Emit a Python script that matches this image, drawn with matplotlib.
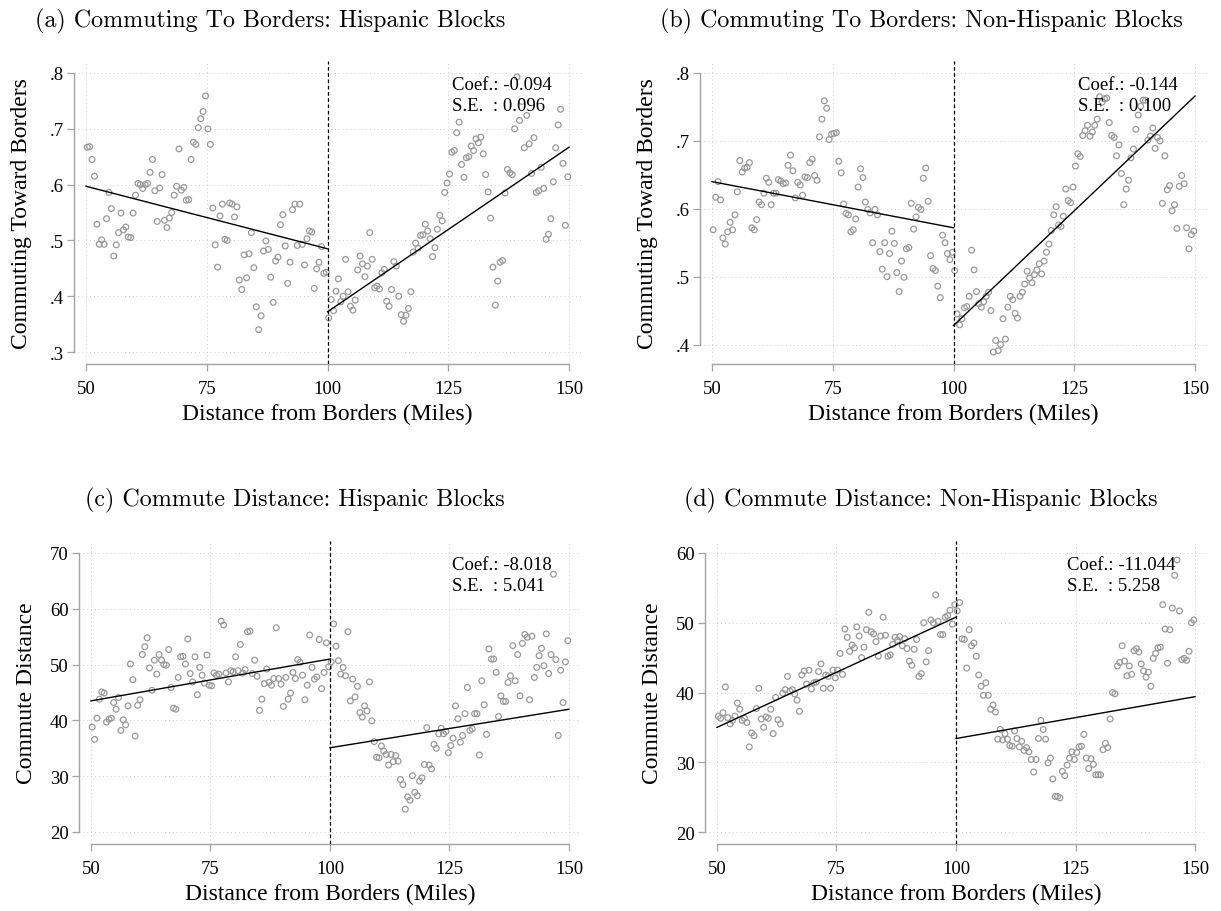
import numpy as np
import matplotlib
matplotlib.use("Agg")
import matplotlib.pyplot as plt

plt.rcParams["font.family"] = ["Liberation Serif", "DejaVu Serif"]

# half-mile distance bins, 50 to 150 miles from the border
dist = np.arange(50.25, 150, 0.5)
x_ticks = [50, 75, 100, 125, 150]

# (a) share commuting toward the border, Hispanic blocks
share_hisp = [
    0.667, 0.668, 0.645, 0.615, 0.529, 0.493, 0.501, 0.493, 0.539, 0.586,
    0.557, 0.472, 0.492, 0.514, 0.549, 0.519, 0.524, 0.506, 0.505, 0.549,
    0.581, 0.602, 0.600, 0.593, 0.600, 0.602, 0.622, 0.645, 0.589, 0.534,
    0.594, 0.618, 0.536, 0.523, 0.540, 0.550, 0.581, 0.597, 0.664, 0.590,
    0.595, 0.572, 0.573, 0.645, 0.676, 0.672, 0.702, 0.718, 0.731, 0.759,
    0.700, 0.672, 0.558, 0.492, 0.452, 0.544, 0.565, 0.502, 0.500, 0.567,
    0.565, 0.542, 0.560, 0.429, 0.412, 0.474, 0.433, 0.476, 0.514, 0.451,
    0.381, 0.340, 0.365, 0.481, 0.499, 0.484, 0.434, 0.389, 0.463, 0.470,
    0.528, 0.546, 0.490, 0.423, 0.461, 0.555, 0.565, 0.491, 0.565, 0.493,
    0.456, 0.503, 0.517, 0.515, 0.414, 0.449, 0.461, 0.489, 0.441, 0.443,
    0.361, 0.394, 0.374, 0.409, 0.431, 0.390, 0.400, 0.466, 0.408, 0.382,
    0.375, 0.393, 0.447, 0.472, 0.458, 0.435, 0.454, 0.514, 0.466, 0.415,
    0.418, 0.413, 0.442, 0.448, 0.391, 0.382, 0.412, 0.462, 0.454, 0.400,
    0.367, 0.355, 0.366, 0.378, 0.408, 0.479, 0.495, 0.486, 0.509, 0.510,
    0.529, 0.517, 0.503, 0.471, 0.487, 0.520, 0.545, 0.535, 0.586, 0.603,
    0.619, 0.658, 0.661, 0.693, 0.712, 0.636, 0.613, 0.648, 0.650, 0.669,
    0.661, 0.682, 0.675, 0.685, 0.655, 0.618, 0.587, 0.540, 0.452, 0.384,
    0.427, 0.461, 0.464, 0.585, 0.627, 0.621, 0.618, 0.700, 0.793, 0.715,
    0.749, 0.666, 0.724, 0.673, 0.620, 0.684, 0.586, 0.589, 0.631, 0.593,
    0.502, 0.511, 0.539, 0.605, 0.666, 0.707, 0.735, 0.638, 0.527, 0.614,
]
fit_share_hisp = [[0.597, 0.485], [0.372, 0.667]]

# (b) share commuting toward the border, non-Hispanic blocks
share_nonhisp = [
    0.569, 0.617, 0.640, 0.613, 0.557, 0.548, 0.566, 0.580, 0.569, 0.591,
    0.625, 0.671, 0.654, 0.660, 0.661, 0.668, 0.572, 0.569, 0.584, 0.610,
    0.606, 0.623, 0.645, 0.639, 0.606, 0.623, 0.623, 0.643, 0.641, 0.637,
    0.638, 0.664, 0.679, 0.656, 0.616, 0.639, 0.635, 0.620, 0.647, 0.646,
    0.668, 0.673, 0.649, 0.642, 0.706, 0.732, 0.759, 0.748, 0.702, 0.710,
    0.711, 0.712, 0.670, 0.653, 0.607, 0.593, 0.591, 0.566, 0.569, 0.585,
    0.632, 0.659, 0.646, 0.610, 0.599, 0.594, 0.550, 0.599, 0.591, 0.537,
    0.511, 0.550, 0.500, 0.534, 0.567, 0.549, 0.506, 0.478, 0.523, 0.499,
    0.541, 0.543, 0.608, 0.570, 0.588, 0.602, 0.599, 0.645, 0.660, 0.611,
    0.531, 0.512, 0.509, 0.486, 0.469, 0.561, 0.550, 0.534, 0.525, 0.536,
    0.509, 0.445, 0.429, 0.438, 0.454, 0.456, 0.471, 0.539, 0.510, 0.478,
    0.460, 0.455, 0.463, 0.471, 0.477, 0.450, 0.389, 0.406, 0.391, 0.400,
    0.438, 0.408, 0.455, 0.471, 0.466, 0.446, 0.439, 0.471, 0.477, 0.489,
    0.508, 0.498, 0.491, 0.503, 0.510, 0.519, 0.504, 0.523, 0.536, 0.548,
    0.568, 0.591, 0.603, 0.576, 0.574, 0.589, 0.629, 0.612, 0.609, 0.632,
    0.663, 0.681, 0.677, 0.708, 0.715, 0.723, 0.707, 0.713, 0.723, 0.732,
    0.765, 0.757, 0.762, 0.763, 0.727, 0.708, 0.705, 0.678, 0.694, 0.652,
    0.606, 0.629, 0.642, 0.675, 0.688, 0.717, 0.738, 0.751, 0.760, 0.760,
    0.701, 0.707, 0.719, 0.689, 0.705, 0.700, 0.608, 0.678, 0.628, 0.634,
    0.597, 0.606, 0.571, 0.633, 0.649, 0.637, 0.572, 0.541, 0.562, 0.567,
]
fit_share_nonhisp = [[0.640, 0.572], [0.428, 0.766]]

# (c) commute distance, Hispanic blocks
dist_hisp = [
    38.8, 36.6, 40.4, 43.8, 45.1, 44.9, 39.7, 40.2, 40.4, 43.2,
    42.0, 44.1, 38.2, 40.1, 39.2, 42.6, 50.1, 47.3, 37.2, 42.7,
    43.7, 51.8, 53.2, 54.8, 49.4, 45.4, 50.8, 48.3, 51.8, 50.8,
    50.0, 49.9, 52.7, 45.9, 42.2, 42.0, 47.7, 51.4, 51.5, 50.1,
    54.6, 48.4, 46.9, 51.4, 44.6, 49.5, 48.1, 46.7, 51.7, 46.3,
    46.2, 48.5, 48.1, 48.3, 57.8, 57.1, 48.5, 46.9, 48.9, 48.7,
    51.4, 48.9, 53.6, 48.5, 49.1, 55.9, 56.0, 48.4, 50.8, 47.9,
    41.8, 43.8, 46.6, 49.2, 46.8, 46.3, 47.5, 56.6, 47.5, 46.5,
    42.5, 47.7, 43.8, 44.9, 48.6, 47.5, 50.9, 50.4, 48.1, 43.7,
    46.3, 55.3, 49.5, 47.4, 47.8, 54.5, 45.7, 48.6, 53.9, 49.6,
    50.5, 57.3, 53.3, 50.7, 48.3, 49.5, 48.0, 55.9, 43.5, 47.4,
    44.2, 46.1, 41.4, 40.6, 42.6, 41.7, 46.9, 39.9, 36.2, 33.4,
    33.3, 35.4, 34.5, 33.9, 32.0, 33.9, 32.6, 33.7, 32.7, 29.4,
    28.5, 24.1, 26.3, 25.7, 30.1, 27.1, 26.5, 29.1, 29.7, 32.1,
    38.7, 32.0, 31.3, 35.7, 35.0, 37.6, 38.6, 37.6, 38.0, 34.2,
    35.5, 36.8, 42.6, 40.3, 36.1, 37.3, 41.2, 45.9, 38.2, 38.5,
    41.2, 41.2, 33.8, 47.1, 42.8, 37.5, 52.8, 51.0, 51.0, 48.6,
    40.7, 44.4, 43.4, 43.4, 46.8, 48.0, 53.4, 47.1, 51.8, 44.4,
    53.8, 55.4, 54.9, 43.7, 55.1, 47.7, 49.5, 51.6, 52.9, 49.8,
    55.5, 48.4, 51.8, 66.2, 50.9, 37.3, 49.0, 43.2, 50.5, 54.3,
]
fit_dist_hisp = [[43.5, 51.0], [35.1, 42.0]]

# (d) commute distance, non-Hispanic blocks
dist_nonhisp = [
    36.6, 36.3, 37.1, 40.8, 36.4, 35.5, 36.0, 36.6, 38.5, 37.6,
    36.0, 36.3, 35.7, 32.2, 34.2, 33.8, 37.7, 40.6, 36.2, 35.0,
    36.5, 36.3, 37.6, 34.1, 39.3, 36.1, 35.5, 39.9, 40.4, 42.3,
    40.2, 40.4, 39.8, 38.9, 37.3, 42.5, 43.1, 41.2, 43.2, 40.5,
    41.4, 41.5, 43.0, 44.1, 40.6, 42.5, 42.3, 40.6, 43.2, 42.1,
    43.2, 45.6, 42.6, 49.1, 47.9, 45.9, 46.8, 46.4, 49.4, 48.1,
    45.0, 46.5, 49.0, 51.5, 48.7, 48.4, 47.3, 45.2, 48.1, 50.8,
    48.2, 45.2, 45.4, 46.9, 47.9, 47.5, 48.0, 46.7, 47.7, 46.3,
    44.5, 43.9, 46.2, 47.6, 42.3, 42.7, 50.0, 44.4, 46.0, 50.4,
    50.0, 54.0, 50.2, 48.3, 48.3, 50.8, 51.0, 51.8, 49.8, 52.6,
    51.7, 52.9, 47.7, 47.6, 43.5, 49.0, 46.7, 47.1, 45.2, 42.5,
    40.9, 39.6, 41.4, 39.6, 37.6, 38.2, 37.2, 33.3, 34.7, 33.2,
    34.1, 33.3, 32.4, 32.3, 34.5, 33.4, 32.2, 33.0, 31.7, 32.1,
    31.5, 30.4, 28.6, 30.4, 33.4, 36.0, 34.7, 33.3, 29.9, 30.6,
    27.6, 25.1, 25.1, 24.9, 28.7, 28.1, 29.6, 30.6, 31.5, 30.4,
    31.4, 32.2, 32.3, 34.0, 30.6, 29.1, 30.5, 29.7, 28.2, 28.2,
    28.2, 31.8, 32.7, 32.1, 36.2, 40.0, 39.8, 43.8, 44.3, 46.7,
    44.5, 42.4, 43.8, 42.6, 46.0, 46.3, 45.8, 44.1, 43.1, 42.2,
    42.9, 40.9, 44.9, 45.6, 46.4, 46.5, 52.6, 49.1, 44.2, 49.0,
    52.1, 56.8, 59.0, 51.7, 44.7, 44.9, 44.6, 45.9, 50.0, 50.4,
]
fit_dist_nonhisp = [[35.0, 50.8], [33.4, 39.4]]

share_ticks_a = [0.3, 0.4, 0.5, 0.6, 0.7, 0.8]
share_labels_a = [".3", ".4", ".5", ".6", ".7", ".8"]
share_ticks_b = [0.4, 0.5, 0.6, 0.7, 0.8]
share_labels_b = [".4", ".5", ".6", ".7", ".8"]
dist_ticks_c = [20, 30, 40, 50, 60, 70]
dist_ticks_d = [20, 30, 40, 50, 60]

titles = [
    "(a) Commuting To Borders: Hispanic Blocks",
    "(b) Commuting To Borders: Non-Hispanic Blocks",
    "(c) Commute Distance: Hispanic Blocks",
    "(d) Commute Distance: Non-Hispanic Blocks",
]
notes = [
    "Coef.: -0.094\nS.E.  : 0.096",
    "Coef.: -0.144\nS.E.  : 0.100",
    "Coef.: -8.018\nS.E.  : 5.041",
    "Coef.: -11.044\nS.E.  : 5.258",
]

W, H = 1221, 912
PAD = 12          # px between data range and edge of plot region
GREY = "#999999"
AXIS_GREY = "#a3a3a3"

panels = [
    dict(y=share_hisp, fit=fit_share_hisp, ticks=share_ticks_a, labels=share_labels_a,
         ylabel="Commuting Toward Borders", title=titles[0], note=notes[0],
         box=(74, 62, 581, 365), title_at=(270, 21), note_x=125.8),
    dict(y=share_nonhisp, fit=fit_share_nonhisp, ticks=share_ticks_b, labels=share_labels_b,
         ylabel="Commuting Toward Borders", title=titles[1], note=notes[1],
         box=(700, 62, 1207, 365), title_at=(921, 21), note_x=125.8),
    dict(y=dist_hisp, fit=fit_dist_hisp, ticks=dist_ticks_c, labels=[str(t) for t in dist_ticks_c],
         ylabel="Commute Distance", title=titles[2], note=notes[2],
         box=(79, 542, 581, 845), title_at=(295, 500), note_x=125.5),
    dict(y=dist_nonhisp, fit=fit_dist_nonhisp, ticks=dist_ticks_d, labels=[str(t) for t in dist_ticks_d],
         ylabel="Commute Distance", title=titles[3], note=notes[3],
         box=(705, 542, 1207, 845), title_at=(921, 500), note_x=123.2),
]


def pad_limits(lo, hi, span_px):
    scale = (hi - lo) / (span_px - 2 * PAD)
    return lo - PAD * scale, hi + PAD * scale


fig = plt.figure(figsize=(W / 100, H / 100), dpi=100)
fig.patch.set_facecolor("white")

for p in panels:
    l, t, r, b = p["box"]
    ax = fig.add_axes([l / W, 1 - b / H, (r - l) / W, (b - t) / H])
    ylo = min(p["ticks"][0], min(p["y"]))
    yhi = max(p["ticks"][-1], max(p["y"]))
    ax.set_xlim(pad_limits(x_ticks[0], x_ticks[-1], r - l))
    ax.set_ylim(pad_limits(ylo, yhi, b - t))

    ax.set_xticks(x_ticks)
    ax.set_yticks(p["ticks"])
    ax.set_yticklabels(p["labels"])
    ax.grid(True, linestyle=(0, (1, 3)), color="#cfcfcf", linewidth=0.7)
    ax.set_axisbelow(True)

    for side in ("top", "right"):
        ax.spines[side].set_visible(False)
    ax.spines["left"].set_bounds(p["ticks"][0], p["ticks"][-1])
    ax.spines["bottom"].set_bounds(x_ticks[0], x_ticks[-1])
    for side in ("left", "bottom"):
        ax.spines[side].set_color(AXIS_GREY)
        ax.spines[side].set_linewidth(1.0)
    ax.tick_params(direction="out", length=5, width=0.9, color=AXIS_GREY,
                   labelsize=13.5, labelcolor="black")
    ax.tick_params(axis="x", pad=6.5)
    ax.tick_params(axis="y", pad=2.5)

    ax.scatter(dist, p["y"], s=17, facecolors="none", edgecolors=GREY,
               linewidths=0.9, zorder=3, clip_on=False)
    ax.plot([50, 100], p["fit"][0], color="black", linewidth=1.0, zorder=4)
    ax.plot([100, 150], p["fit"][1], color="black", linewidth=1.0, zorder=4)
    ax.axvline(100, color="black", linewidth=0.9, linestyle=(0, (3, 2)), zorder=4)

    ax.annotate(p["note"], xy=(p["note_x"], yhi), xytext=(0, -2),
                textcoords="offset points", ha="left", va="top",
                fontsize=13.5, linespacing=1.35, zorder=5)

    ax.set_xlabel("Distance from Borders (Miles)", fontsize=17)
    ax.xaxis.set_label_coords(0.5, -39 / (b - t))
    ax.xaxis.label.set_va("top")
    ax.set_ylabel(p["ylabel"], fontsize=17)
    ax.yaxis.set_label_coords(-42 / (r - l), 0.5)

    fig.text(p["title_at"][0] / W, 1 - p["title_at"][1] / H, p["title"],
             ha="center", va="center", fontsize=17.3,
             family=["cmr10", "DejaVu Serif"])

fig.savefig("out.png", dpi=100)
